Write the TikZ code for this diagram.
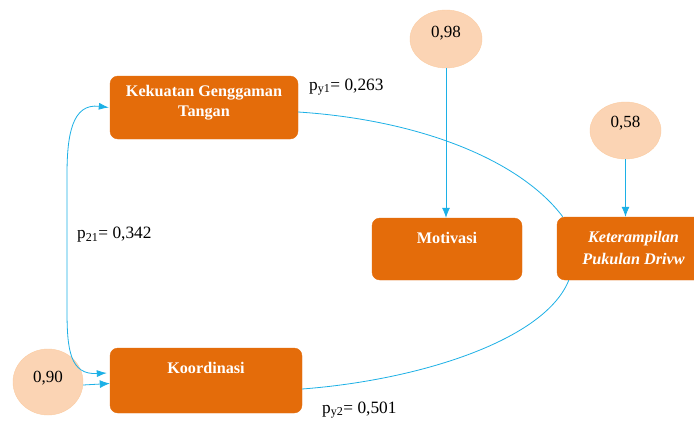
\documentclass[tikz,border=0pt]{standalone}
\usepackage{fontspec}
\setmainfont{Liberation Serif}
\usetikzlibrary{arrows.meta,shapes.geometric}
\definecolor{boxor}{HTML}{E46C0A}
\definecolor{peach}{HTML}{FBD4B4}
\definecolor{lineblue}{HTML}{1CB0E6}
\tikzset{
  varbox/.style={draw=boxor, fill=boxor, rounded corners=8pt, inner sep=0pt},
  boxtext/.style={text=white, font=\fontsize{16.2}{20}\selectfont\bfseries, align=center, inner sep=0pt},
  errell/.style={ellipse, draw=peach!90!orange, fill=peach, inner sep=0pt},
  elltext/.style={font=\fontsize{17}{20}\selectfont, inner sep=0pt},
  coef/.style={font=\fontsize{17.3}{20}\selectfont, inner sep=0pt, anchor=west},
  conn/.style={draw=lineblue, line width=0.8pt},
  arr/.style={conn, -{Latex[length=10pt,width=8pt]}},
  darr/.style={conn, {Latex[length=10pt,width=7pt]}-{Latex[length=10pt,width=7pt]}},
}
\begin{document}
\begin{tikzpicture}[x=1pt, y=-1pt]
\useasboundingbox (0,0) rectangle (694,423);
\clip (0,0) rectangle (694,423);
\fill[white] (0,0) rectangle (694,423);
% boxes
\node[varbox, minimum width=188pt, minimum height=63pt] (kek) at (204,107.5) {};
\node[varbox, minimum width=192pt, minimum height=65pt] (koo) at (206,380.5) {};
\node[varbox, minimum width=150pt, minimum height=62pt] (mot) at (447,249) {};
\node[varbox, minimum width=153pt, minimum height=63pt] (ket) at (633.5,248.5) {};
% box texts
\node[boxtext] (kekT) at (204,103) {Kekuatan Genggaman\\Tangan};
\node[boxtext] (kooT) at (206,368) {Koordinasi};
\node[boxtext] (motT) at (447,238) {Motivasi};
\node[boxtext, font=\fontsize{16.2}{22}\selectfont\bfseries\itshape] (ketT) at (633.5,248) {Keterampilan\\Pukulan Drivw};
% error ellipses
\node[errell, minimum width=72pt, minimum height=58pt] (e98) at (446,39) {};
\node[errell, minimum width=71pt, minimum height=57pt] (e58) at (625.5,130.5) {};
\node[errell, minimum width=70pt, minimum height=66pt] (e90) at (48,382) {};
\node[elltext] (e98T) at (446,33) {0,98};
\node[elltext] (e58T) at (625.5,123) {0,58};
\node[elltext] (e90T) at (48,378) {0,90};
% connectors
\draw[arr] (e98) -- (mot.north -| e98);
\draw[arr] (e58) -- (ket.north -| e58);
\draw[arr] ([yshift=-3pt]e90.east) -- ([yshift=-3pt]koo.west);
\draw[conn] ([yshift=-4.5pt]kek.east) .. controls (420,120) and (520,160) .. ([xshift=6pt]ket.north west);
\draw[conn] ([yshift=-8.5pt]koo.east) .. controls (420,380) and (545,340) .. ([xshift=12pt]ket.south west);
\draw[darr] ([xshift=-1pt]kek.west) .. controls (72,103) and (67,135) .. (67,175) -- (67,310) .. controls (67,350) and (70,375) .. ([xshift=-3pt,yshift=7.5pt]koo.west);
% coefficients
\node[coef] (py1) at (309,87) {p\textsubscript{y1}= 0,263};
\node[coef] (p21) at (77,235) {p\textsubscript{21}= 0,342};
\node[coef] (py2) at (322,410) {p\textsubscript{y2}= 0,501};
\end{tikzpicture}
\end{document}
